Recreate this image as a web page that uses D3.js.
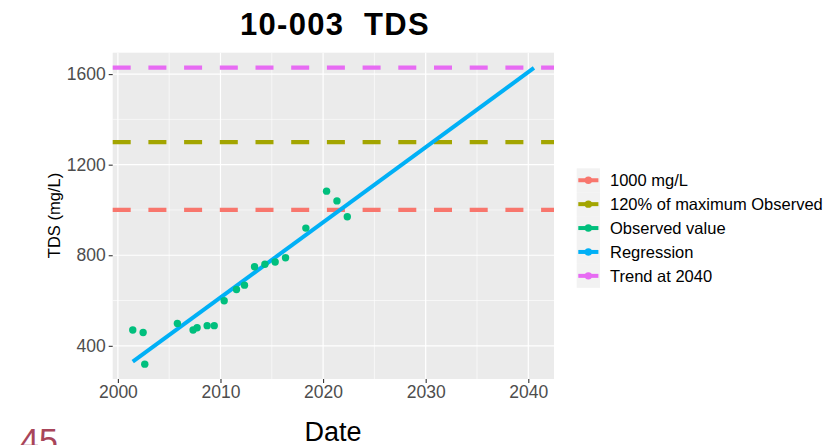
<!DOCTYPE html>
<html>
<head>
<meta charset="utf-8">
<script src="https://cdn.jsdelivr.net/npm/d3@7"></script>
<style>
  html, body { margin: 0; padding: 0; background: #ffffff; }
  svg { display: block; font-family: "Liberation Sans", Arial, sans-serif; }
  .title { white-space: pre; }
</style>
</head>
<body>
<svg id="chart" width="826" height="445"></svg>
<script>
// Observed TDS samples (decimal year, mg/L)
const obsDates  = [2001.45, 2002.46, 2002.62, 2005.80, 2007.33, 2007.72, 2008.70, 2009.39,
                   2010.36, 2011.56, 2012.34, 2013.32, 2014.33, 2015.33, 2016.34, 2018.32,
                   2020.34, 2021.35, 2022.36];
const obsValues = [470, 459, 319, 499, 470, 480, 489, 489,
                   599, 649, 668, 749, 760, 770, 789, 920,
                   1083, 1040, 970];

// Fitted regression, drawn between its two end points
const regDates  = [2001.45, 2040.55];
const regValues = [330, 1627];

// Horizontal reference levels (mg/L)
const limitValue   = 1000;
const maxObsValue  = 1300;   // 120% of the highest observation
const trendValue   = 1629;   // regression value at 2040

const seriesNames  = ["1000 mg/L", "120% of maximum Observed", "Observed value", "Regression", "Trend at 2040"];
const seriesColors = ["#F8766D", "#A3A500", "#00BF7D", "#00B0F6", "#E76BF3"];

const xTicks      = [2000, 2010, 2020, 2030, 2040];
const xMinorTicks = [2005, 2015, 2025, 2035];
const yTicks      = [400, 800, 1200, 1600];
const yMinorTicks = [600, 1000, 1400];

const svg = d3.select("#chart");

// panel geometry
const panel = { left: 112.7, right: 554, top: 52.7, bottom: 379 };

// ggplot-style 5% expansion of the data range
function expand(lo, hi) {
  const pad = (hi - lo) * 0.05;
  return [lo - pad, hi + pad];
}
const allX = obsDates.concat(regDates);
const allY = obsValues.concat(regValues, [limitValue, maxObsValue, trendValue]);

const x = d3.scaleLinear().domain(expand(d3.min(allX), d3.max(allX))).range([panel.left, panel.right]);
const y = d3.scaleLinear().domain(expand(d3.min(allY), d3.max(allY))).range([panel.bottom, panel.top]);

// panel background
svg.append("rect")
  .attr("x", panel.left).attr("y", panel.top)
  .attr("width", panel.right - panel.left).attr("height", panel.bottom - panel.top)
  .attr("fill", "#EBEBEB");

const grid = svg.append("g");
// minor grid
grid.selectAll(".xminor").data(xMinorTicks).enter().append("line")
  .attr("x1", d => x(d)).attr("x2", d => x(d))
  .attr("y1", panel.top).attr("y2", panel.bottom)
  .attr("stroke", "#ffffff").attr("stroke-width", 0.6);
grid.selectAll(".yminor").data(yMinorTicks).enter().append("line")
  .attr("y1", d => y(d)).attr("y2", d => y(d))
  .attr("x1", panel.left).attr("x2", panel.right)
  .attr("stroke", "#ffffff").attr("stroke-width", 0.6);
// major grid
grid.selectAll(".xmajor").data(xTicks).enter().append("line")
  .attr("x1", d => x(d)).attr("x2", d => x(d))
  .attr("y1", panel.top).attr("y2", panel.bottom)
  .attr("stroke", "#ffffff").attr("stroke-width", 1.2);
grid.selectAll(".ymajor").data(yTicks).enter().append("line")
  .attr("y1", d => y(d)).attr("y2", d => y(d))
  .attr("x1", panel.left).attr("x2", panel.right)
  .attr("stroke", "#ffffff").attr("stroke-width", 1.2);

// dashed reference levels
const hlines = [
  { v: limitValue,  c: seriesColors[0] },
  { v: maxObsValue, c: seriesColors[1] },
  { v: trendValue,  c: seriesColors[4] }
];
svg.append("g").selectAll("line").data(hlines).enter().append("line")
  .attr("x1", panel.left).attr("x2", panel.right)
  .attr("y1", d => y(d.v)).attr("y2", d => y(d.v))
  .attr("stroke", d => d.c)
  .attr("stroke-width", 4.3)
  .attr("stroke-dasharray", "18 17.7");

// regression line
const regLine = d3.line().x(d => x(d[0])).y(d => y(d[1]));
svg.append("path")
  .datum(d3.zip(regDates, regValues))
  .attr("d", regLine)
  .attr("fill", "none")
  .attr("stroke", seriesColors[3])
  .attr("stroke-width", 4);

// observations
svg.append("g").selectAll("circle").data(d3.zip(obsDates, obsValues)).enter().append("circle")
  .attr("cx", d => x(d[0])).attr("cy", d => y(d[1]))
  .attr("r", 3.7)
  .attr("fill", seriesColors[2]);

// axes
const xAxis = d3.axisBottom(x).tickValues(xTicks).tickFormat(d3.format("d")).tickSize(4).tickPadding(3);
const gx = svg.append("g").attr("transform", `translate(0,${panel.bottom})`).call(xAxis);
gx.select(".domain").remove();
gx.selectAll(".tick line").attr("stroke", "#333333").attr("stroke-width", 1.1);
gx.selectAll(".tick text").attr("fill", "#4D4D4D").attr("font-size", 17.5)
  .attr("font-family", "Liberation Sans, Arial, sans-serif");

const yAxis = d3.axisLeft(y).tickValues(yTicks).tickFormat(d3.format("d")).tickSize(4).tickPadding(3);
const gy = svg.append("g").attr("transform", `translate(${panel.left},0)`).call(yAxis);
gy.select(".domain").remove();
gy.selectAll(".tick line").attr("stroke", "#333333").attr("stroke-width", 1.1);
gy.selectAll(".tick text").attr("fill", "#4D4D4D").attr("font-size", 17.5)
  .attr("font-family", "Liberation Sans, Arial, sans-serif");

// titles
svg.append("text")
  .attr("class", "title")
  .attr("x", 335).attr("y", 34.5)
  .attr("text-anchor", "middle")
  .attr("font-size", 31).attr("font-weight", "bold")
  .attr("letter-spacing", 1.3)
  .attr("fill", "#000000")
  .text("10-003  TDS");

svg.append("text")
  .attr("x", 333).attr("y", 441)
  .attr("text-anchor", "middle")
  .attr("font-size", 27)
  .attr("fill", "#000000")
  .text("Date");

svg.append("text")
  .attr("transform", "translate(60,215.5) rotate(-90)")
  .attr("text-anchor", "middle")
  .attr("font-size", 16.5)
  .attr("fill", "#000000")
  .text("TDS (mg/L)");

// legend
const legend = svg.append("g").attr("transform", "translate(576.7,168.3)");
const keyH = 23.9, keyW = 23.3;
const items = legend.selectAll("g").data(seriesNames).enter().append("g")
  .attr("transform", (d, i) => `translate(0,${i * keyH})`);
items.append("rect")
  .attr("width", keyW).attr("height", keyH)
  .attr("fill", "#F2F2F2");
items.append("line")
  .attr("x1", 1.6).attr("x2", keyW - 1.6)
  .attr("y1", keyH / 2).attr("y2", keyH / 2)
  .attr("stroke", (d, i) => seriesColors[i])
  .attr("stroke-width", 4);
items.append("circle")
  .attr("cx", keyW / 2).attr("cy", keyH / 2).attr("r", 3.7)
  .attr("fill", (d, i) => seriesColors[i]);
items.append("text")
  .attr("x", 33.3).attr("y", keyH / 2)
  .attr("dy", "0.36em")
  .attr("font-size", 16.5)
  .attr("fill", "#000000")
  .text(d => d);

// page number
svg.append("text")
  .attr("x", 20).attr("y", 452)
  .attr("font-size", 34)
  .attr("fill", "#A8455A")
  .text("45");
</script>
</body>
</html>
